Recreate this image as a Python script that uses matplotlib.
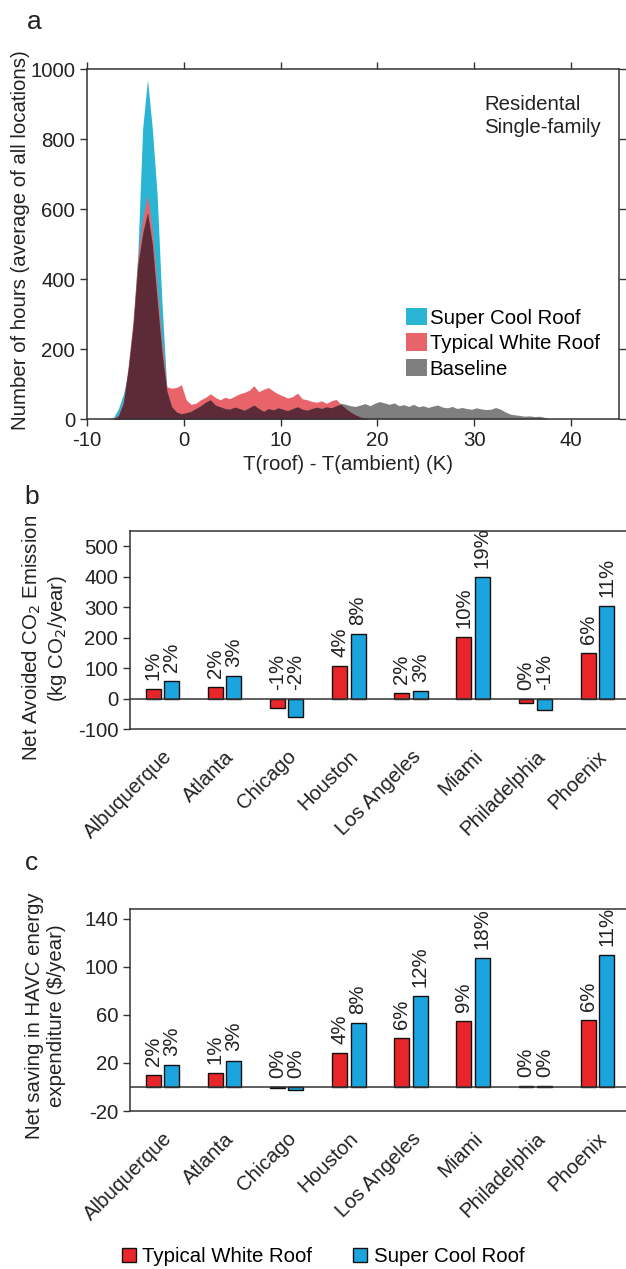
import numpy as np
import matplotlib
matplotlib.use('Agg')
import matplotlib.pyplot as plt
from matplotlib.patches import Patch

plt.rcParams['font.family'] = ['Liberation Sans', 'DejaVu Sans']
plt.rcParams['axes.unicode_minus'] = False
FS = 14.7
plt.rcParams['font.size'] = FS

# panel a: hours per bin of T(roof) - T(ambient), bins of 0.5 K starting at -7.75
bin_start = -7.75
bin_width = 0.5
super_hours = [0, 5, 30, 70, 130, 260, 470, 830, 970, 830, 640, 330, 90, 10, 0]
white_hours = [0, 2, 12, 50, 150, 280, 460, 570, 640, 540, 380, 220, 92, 88, 90, 98,
               55, 42, 45, 55, 62, 72, 62, 55, 62, 58, 65, 72, 76, 82, 95, 78,
               85, 90, 80, 72, 66, 60, 64, 74, 58, 55, 50, 48, 52, 45, 52, 56,
               42, 30, 20, 12, 6, 2, 0]
base_hours = [0, 0, 10, 45, 140, 260, 440, 530, 590, 500, 340, 190, 80, 35, 20, 15,
              18, 22, 30, 38, 48, 55, 40, 35, 30, 28, 34, 30, 25, 32, 40, 30,
              22, 30, 26, 32, 28, 24, 30, 35, 28, 25, 30, 34, 30, 35, 32, 38,
              45, 42, 38, 36, 40, 44, 38, 45, 50, 46, 42, 46, 38, 41, 36, 42,
              35, 38, 33, 37, 40, 34, 32, 36, 30, 33, 30, 28, 32, 29, 27, 28,
              33, 28, 20, 14, 12, 10, 8, 9, 7, 8, 5, 0]

# panels b and c
cities = ['Albuquerque', 'Atlanta', 'Chicago', 'Houston', 'Los Angeles',
          'Miami', 'Philadelphia', 'Phoenix']
co2_white = [33, 38, -31, 108, 17, 202, -15, 151]
co2_super = [57, 73, -59, 213, 26, 399, -39, 303]
co2_white_pct = ['1%', '2%', '-1%', '4%', '2%', '10%', '0%', '6%']
co2_super_pct = ['2%', '3%', '-2%', '8%', '3%', '19%', '-1%', '11%']
cost_white = [10, 12, -0.8, 28, 40.5, 55, 0.6, 56]
cost_super = [18, 22, -2.7, 53, 76, 107, 1.0, 110]
cost_white_pct = ['2%', '1%', '0%', '4%', '6%', '9%', '0%', '6%']
cost_super_pct = ['3%', '3%', '0%', '8%', '12%', '18%', '0%', '11%']

c_cyan = '#2BB5D4'
c_pink = '#E8646A'
c_gray = '#7F7F7F'
c_maroon = '#5C2B37'
c_red = '#E8262A'
c_blue = '#1CA4DE'
c_axis = '#333333'
c_text = '#222222'

fig = plt.figure(figsize=(6.26, 12.69), dpi=100)

# ---------------- panel a
ax = fig.add_axes([0.139, 0.6698, 0.85, 0.2758])
xb = bin_start + bin_width * np.arange(len(base_hours))
xs = xb[:len(super_hours)]
xw = xb[:len(white_hours)]
white_full = np.zeros(len(base_hours))
white_full[:len(white_hours)] = white_hours
overlap = np.minimum(white_full, base_hours)

ax.fill_between(xs, super_hours, color=c_cyan, lw=0)
ax.fill_between(xw, white_hours, color=c_pink, lw=0)
ax.fill_between(xb, base_hours, color=c_gray, lw=0)
ax.fill_between(xb, overlap, color=c_maroon, lw=0)

ax.set_xlim(-10, 45)
ax.set_ylim(0, 1000)
ax.set_xticks([-10, 0, 10, 20, 30, 40])
ax.set_yticks([0, 200, 400, 600, 800, 1000])
ax.tick_params(direction='out', length=5, width=1, colors=c_axis, labelcolor=c_text,
               top=True, right=True, labelsize=FS)
for s in ax.spines.values():
    s.set_color(c_axis)
    s.set_linewidth(1.1)

ax.text(0.746, 0.866, 'Residental\nSingle-family', transform=ax.transAxes,
        ha='left', va='center', fontsize=FS, linespacing=1.25, color=c_text)
ax.legend(handles=[Patch(fc=c_cyan), Patch(fc=c_pink), Patch(fc=c_gray)],
          labels=['Super Cool Roof', 'Typical White Roof', 'Baseline'],
          loc='upper left', bbox_to_anchor=(0.6, 0.318), frameon=False,
          borderpad=0, borderaxespad=0, handlelength=1.0, handleheight=0.95,
          handletextpad=0.15, labelspacing=0.28, fontsize=FS)

fig.text(0.0335, 0.811, 'Number of hours (average of all locations)', rotation=90,
         ha='center', va='center', fontsize=FS, color=c_text)
fig.text(0.556, 0.6336, 'T(roof) - T(ambient) (K)', ha='center', va='center',
         fontsize=FS, color=c_text)


# ---------------- panels b and c
def bar_panel(rect, white, sup, white_pct, sup_pct, ylim, yticks):
    axb = fig.add_axes(rect)
    x = np.arange(len(cities))
    off = 0.149
    w = 0.24
    axb.bar(x - off, white, w, color=c_red, edgecolor='#111111', lw=1, zorder=3)
    axb.bar(x + off, sup, w, color=c_blue, edgecolor='#111111', lw=1, zorder=3)
    axb.axhline(0, color=c_axis, lw=1.1, zorder=4)
    for xi, v, t in zip(x - off, white, white_pct):
        axb.annotate(t, (xi, max(v, 0)), xytext=(0, 6.5), textcoords='offset points',
                     rotation=90, ha='center', va='bottom', fontsize=FS, color=c_text)
    for xi, v, t in zip(x + off, sup, sup_pct):
        axb.annotate(t, (xi, max(v, 0)), xytext=(0, 6.5), textcoords='offset points',
                     rotation=90, ha='center', va='bottom', fontsize=FS, color=c_text)
    axb.set_xlim(-0.52, 7.46)
    axb.set_ylim(*ylim)
    axb.set_yticks(yticks)
    axb.set_xticks(x)
    axb.set_xticklabels(cities, rotation=45, ha='right', rotation_mode='anchor',
                        fontsize=FS, color=c_text)
    axb.tick_params(axis='x', length=0, pad=13)
    axb.tick_params(axis='y', direction='out', length=5, width=1, colors=c_axis,
                    labelcolor=c_text, labelsize=FS)
    axb.spines['right'].set_visible(False)
    for s in axb.spines.values():
        s.set_color(c_axis)
        s.set_linewidth(1.1)
    return axb


bar_panel([0.2077, 0.4255, 0.7923, 0.156], co2_white, co2_super, co2_white_pct,
          co2_super_pct, (-100, 550), [-100, 0, 100, 200, 300, 400, 500])
bar_panel([0.2077, 0.1245, 0.7923, 0.1592], cost_white, cost_super, cost_white_pct,
          cost_super_pct, (-20, 148), [-20, 20, 60, 100, 140])

fig.text(0.072, 0.497, 'Net Avoided CO$_2$ Emission\n(kg CO$_2$/year)', rotation=90,
         ha='center', va='center', fontsize=FS, linespacing=1.2, color=c_text)
fig.text(0.072, 0.2, 'Net saving in HAVC energy\nexpenditure (\\$/year)', rotation=90,
         ha='center', va='center', fontsize=FS, linespacing=1.2, color=c_text)

fig.text(0.054, 0.983, 'a', fontsize=19, ha='center', va='center', color=c_text)
fig.text(0.051, 0.6084, 'b', fontsize=19, ha='center', va='center', color=c_text)
fig.text(0.051, 0.32, 'c', fontsize=19, ha='center', va='center', color=c_text)

fig.legend(handles=[Patch(fc=c_red, ec='#111111'), Patch(fc=c_blue, ec='#111111')],
           labels=['Typical White Roof', 'Super Cool Roof'], loc='center',
           bbox_to_anchor=(0.516, 0.0095), ncol=2, frameon=False, handlelength=0.7,
           handleheight=0.7, handletextpad=0.3, columnspacing=2.0, fontsize=FS)

fig.savefig('out.png', dpi=100)
